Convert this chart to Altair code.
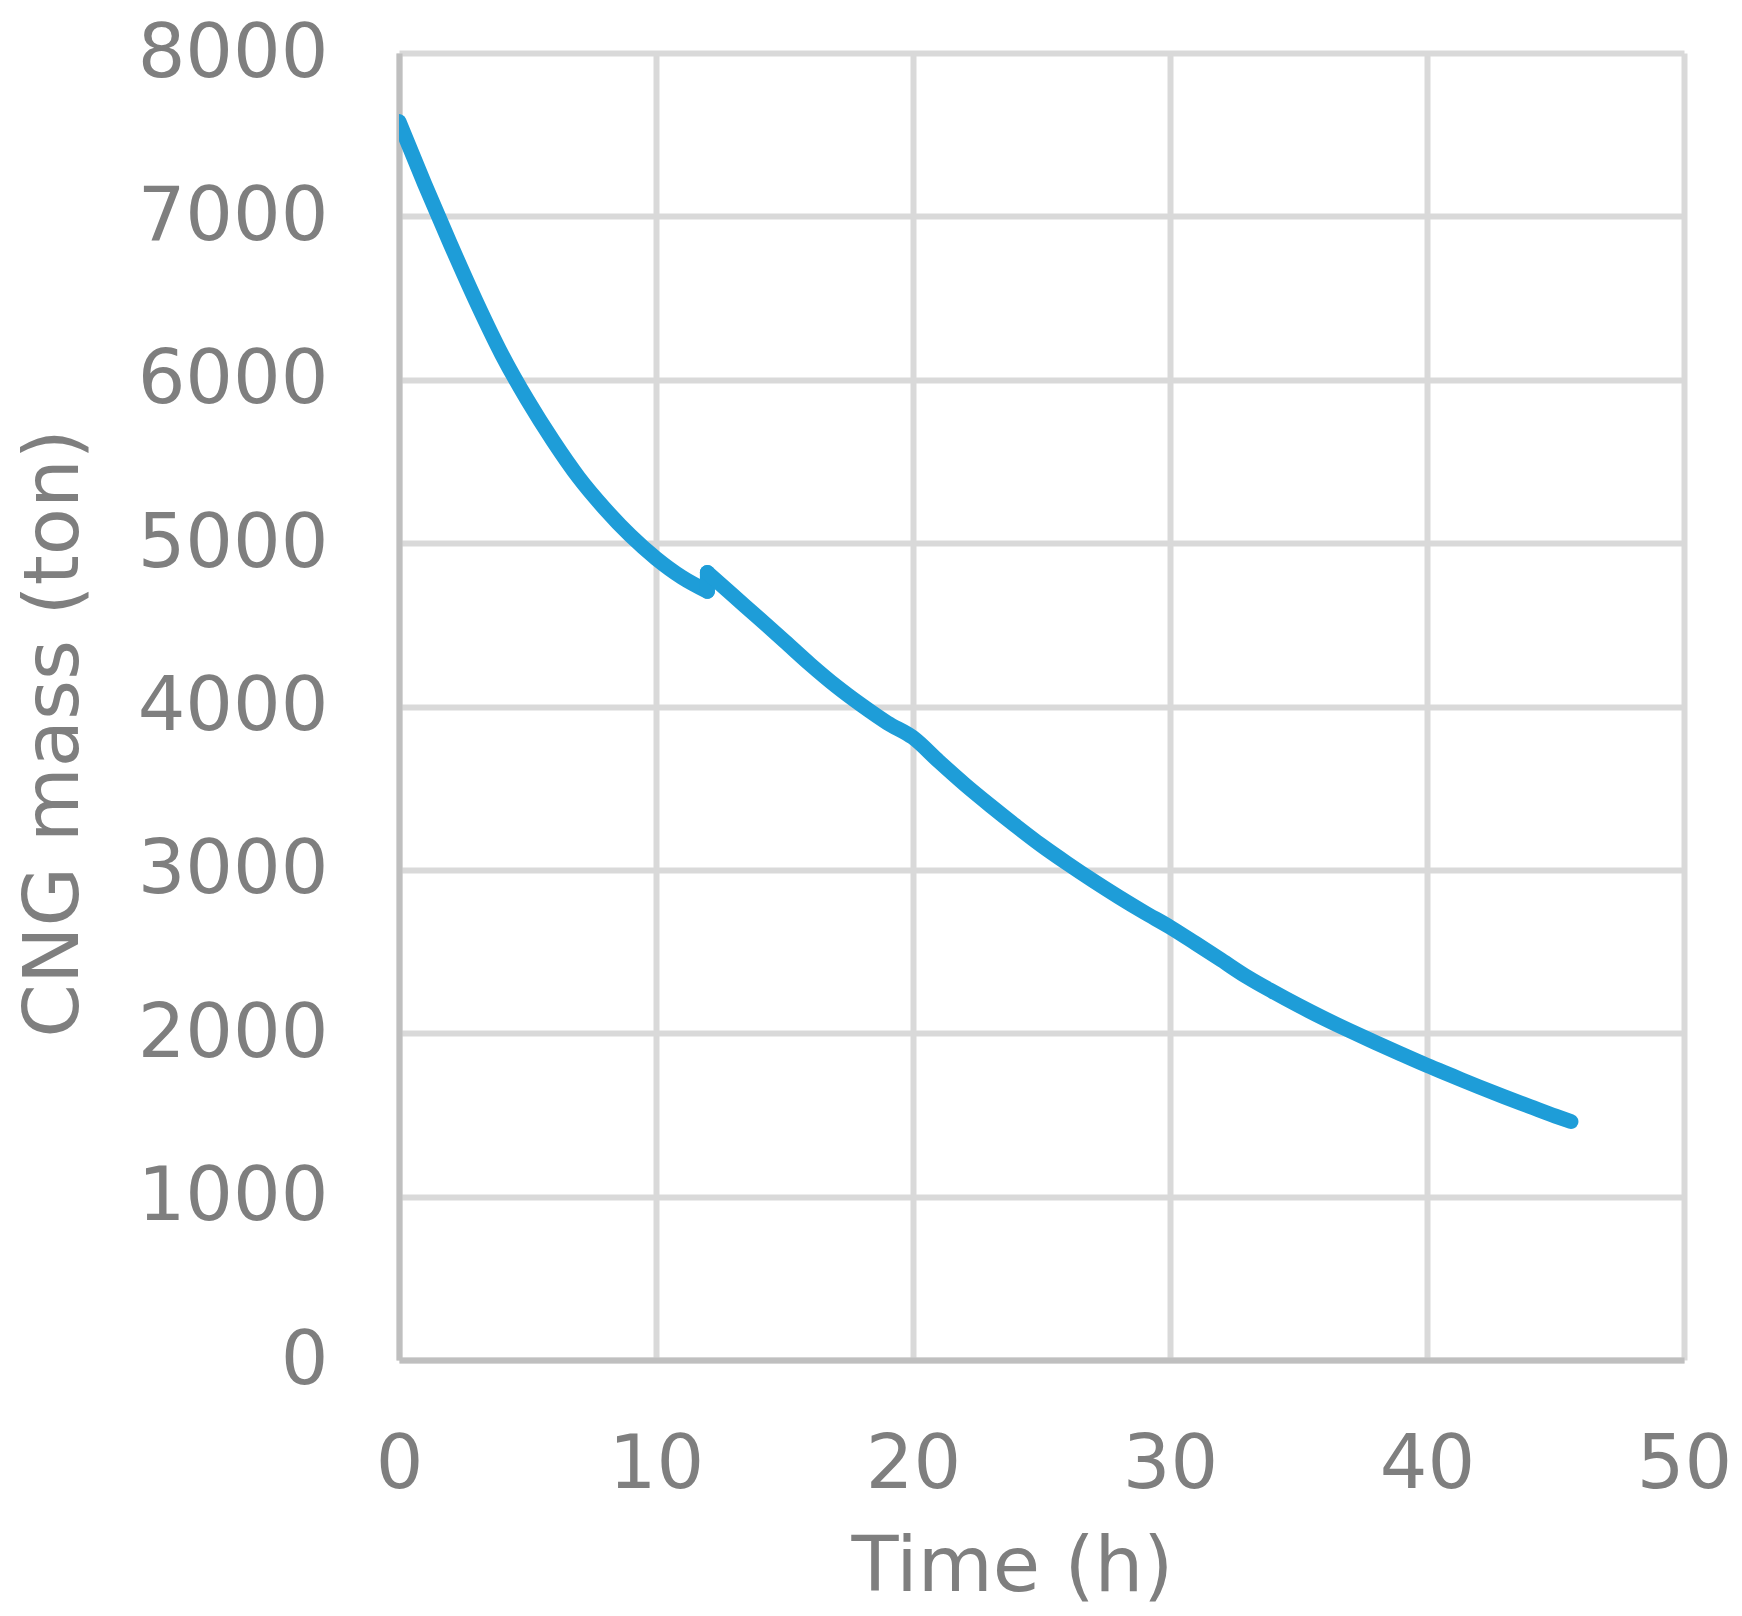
import altair as alt
import pandas as pd

# values
# first stretch, up to the small jump at 12 h
time_a = [0, 1, 2, 3, 4, 5, 6, 7, 8, 9, 10, 11, 12]
mass_a = [7580, 7197, 6831, 6480, 6155, 5875, 5625, 5400, 5212, 5047, 4907, 4792, 4705]
# second stretch, from the jump to the end
time_b = [12, 13, 14, 15, 16, 17, 18, 19, 20, 21, 22, 23, 24, 25, 26, 27, 28, 29, 30,
          31, 32, 33, 34, 35, 36, 37, 38, 39, 40, 41, 42, 43, 44, 45, 45.6]
mass_b = [4820, 4680, 4541, 4400, 4258, 4126, 4008, 3900, 3810, 3665, 3525, 3395, 3270,
          3150, 3040, 2935, 2835, 2740, 2650, 2550, 2448, 2345, 2255, 2170, 2090, 2015,
          1943, 1872, 1803, 1738, 1673, 1611, 1552, 1493, 1460]

x_ticks = [0, 10, 20, 30, 40, 50]
y_ticks = [0, 1000, 2000, 3000, 4000, 5000, 6000, 7000, 8000]

seg_a = pd.DataFrame({"time": time_a, "mass": mass_a, "seg": "a"})
seg_jump = pd.DataFrame({"time": [time_a[-1], time_b[0]], "mass": [mass_a[-1], mass_b[0]], "seg": "jump"})
seg_b = pd.DataFrame({"time": time_b, "mass": mass_b, "seg": "b"})
df = pd.concat([seg_a, seg_jump, seg_b], ignore_index=True)
df["idx"] = range(len(df))

FONT = "DejaVu Sans"
GREY = "#7F7F7F"

chart = (
    alt.Chart(df)
    .mark_line(color="#1E9DD8", strokeWidth=15, strokeCap="round", strokeJoin="round",
               interpolate="monotone", clip=True)
    .encode(
        x=alt.X(
            "time:Q",
            scale=alt.Scale(domain=[0, 50], nice=False, zero=True),
            axis=alt.Axis(
                values=x_ticks,
                format="d",
                title="Time (h)",
                ticks=False,
                tickSize=0,
                labelFlush=False,
                labelPadding=127,
                labelBaseline="alphabetic",
                titleX=613,
                titleY=230,
                titleBaseline="alphabetic",
            ),
        ),
        y=alt.Y(
            "mass:Q",
            scale=alt.Scale(domain=[0, 8000], nice=False),
            axis=alt.Axis(
                values=y_ticks,
                format="d",
                title="CNG mass (ton)",
                ticks=False,
                tickSize=0,
                labelPadding=71,
                labelLimit=400,
                titleX=-322,
                titleY=680,
                titleAngle=270,
                titleAlign="center",
                titleBaseline="alphabetic",
            ),
        ),
        detail="seg:N",
        order="idx:Q",
    )
    .properties(
        width=1285,
        height=1307,
        autosize=alt.AutoSizeParams(type="none"),
        padding={"left": 391, "top": 45, "right": 50, "bottom": 248},
    )
    .configure_view(stroke=None)
    .configure_axis(
        grid=True,
        gridColor="#D9D9D9",
        gridWidth=6,
        domainColor="#BFBFBF",
        domainWidth=6,
        labelFont=FONT,
        labelFontSize=75,
        labelColor=GREY,
        titleFont=FONT,
        titleFontSize=77,
        titleFontWeight="normal",
        titleColor=GREY,
    )
)

chart.save("out.html", embed_options={"renderer": "svg", "actions": False})
